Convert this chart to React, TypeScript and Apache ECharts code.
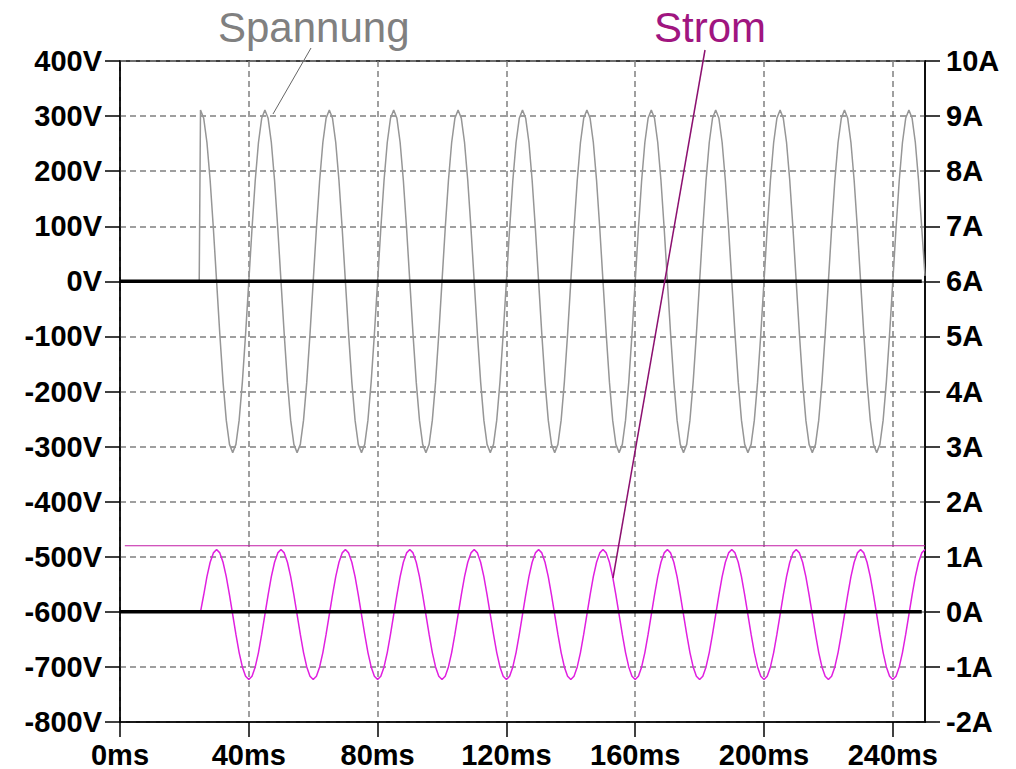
import React, { useEffect, useRef } from "react";
import * as echarts from "echarts";

// x axis (ms)
const xMinMs = 0;
const xMaxMs = 250;
const xIntervalMs = 40;
const xTickValuesMs = [0, 40, 80, 120, 160, 200, 240];
// left axis (V)
const vMin = -800;
const vMax = 400;
const vInterval = 100;
// right axis (A)
const aMin = -2;
const aMax = 10;
const aInterval = 1;

// traces sampled every 1 ms, beginning at the switch-on time
const sampleStartMs = 25;
const sampleStepMs = 1;
// lead-in before switch-on (both traces at zero)
const leadTimesMs = [0, 24.6];
const leadVoltageV = [0, 0];
const leadCurrentA = [0, 0];

const voltageV = [
  311, 296, 252, 183, 96, 0, -96, -183, -252, -296, -311, -296, -252, -183, -96, 0, 96, 183, 252, 296,
  311, 296, 252, 183, 96, 0, -96, -183, -252, -296, -311, -296, -252, -183, -96, 0, 96, 183, 252, 296,
  311, 296, 252, 183, 96, 0, -96, -183, -252, -296, -311, -296, -252, -183, -96, 0, 96, 183, 252, 296,
  311, 296, 252, 183, 96, 0, -96, -183, -252, -296, -311, -296, -252, -183, -96, 0, 96, 183, 252, 296,
  311, 296, 252, 183, 96, 0, -96, -183, -252, -296, -311, -296, -252, -183, -96, 0, 96, 183, 252, 296,
  311, 296, 252, 183, 96, 0, -96, -183, -252, -296, -311, -296, -252, -183, -96, 0, 96, 183, 252, 296,
  311, 296, 252, 183, 96, 0, -96, -183, -252, -296, -311, -296, -252, -183, -96, 0, 96, 183, 252, 296,
  311, 296, 252, 183, 96, 0, -96, -183, -252, -296, -311, -296, -252, -183, -96, 0, 96, 183, 252, 296,
  311, 296, 252, 183, 96, 0, -96, -183, -252, -296, -311, -296, -252, -183, -96, 0, 96, 183, 252, 296,
  311, 296, 252, 183, 96, 0, -96, -183, -252, -296, -311, -296, -252, -183, -96, 0, 96, 183, 252, 296,
  311, 296, 252, 183, 96, 0, -96, -183, -252, -296, -311, -296, -252, -183, -96, 0, 96, 183, 252, 296,
  311, 296, 252, 183, 96, 10,
];

const currentA = [
  0.0, 0.31, 0.64, 0.9, 1.07, 1.13, 1.07, 0.9, 0.64, 0.31, -0.05, -0.41, -0.74, -1.0, -1.17, -1.23, -1.17, -1.0, -0.74, -0.41,
  -0.05, 0.31, 0.64, 0.9, 1.07, 1.13, 1.07, 0.9, 0.64, 0.31, -0.05, -0.41, -0.74, -1.0, -1.17, -1.23, -1.17, -1.0, -0.74, -0.41,
  -0.05, 0.31, 0.64, 0.9, 1.07, 1.13, 1.07, 0.9, 0.64, 0.31, -0.05, -0.41, -0.74, -1.0, -1.17, -1.23, -1.17, -1.0, -0.74, -0.41,
  -0.05, 0.31, 0.64, 0.9, 1.07, 1.13, 1.07, 0.9, 0.64, 0.31, -0.05, -0.41, -0.74, -1.0, -1.17, -1.23, -1.17, -1.0, -0.74, -0.41,
  -0.05, 0.31, 0.64, 0.9, 1.07, 1.13, 1.07, 0.9, 0.64, 0.31, -0.05, -0.41, -0.74, -1.0, -1.17, -1.23, -1.17, -1.0, -0.74, -0.41,
  -0.05, 0.31, 0.64, 0.9, 1.07, 1.13, 1.07, 0.9, 0.64, 0.31, -0.05, -0.41, -0.74, -1.0, -1.17, -1.23, -1.17, -1.0, -0.74, -0.41,
  -0.05, 0.31, 0.64, 0.9, 1.07, 1.13, 1.07, 0.9, 0.64, 0.31, -0.05, -0.41, -0.74, -1.0, -1.17, -1.23, -1.17, -1.0, -0.74, -0.41,
  -0.05, 0.31, 0.64, 0.9, 1.07, 1.13, 1.07, 0.9, 0.64, 0.31, -0.05, -0.41, -0.74, -1.0, -1.17, -1.23, -1.17, -1.0, -0.74, -0.41,
  -0.05, 0.31, 0.64, 0.9, 1.07, 1.13, 1.07, 0.9, 0.64, 0.31, -0.05, -0.41, -0.74, -1.0, -1.17, -1.23, -1.17, -1.0, -0.74, -0.41,
  -0.05, 0.31, 0.64, 0.9, 1.07, 1.13, 1.07, 0.9, 0.64, 0.31, -0.05, -0.41, -0.74, -1.0, -1.17, -1.23, -1.17, -1.0, -0.74, -0.41,
  -0.05, 0.31, 0.64, 0.9, 1.07, 1.13, 1.07, 0.9, 0.64, 0.31, -0.05, -0.41, -0.74, -1.0, -1.17, -1.23, -1.17, -1.0, -0.74, -0.41,
  -0.05, 0.31, 0.64, 0.9, 1.07, 1.13,
];

// horizontal reference levels
const zeroVoltV = 0;
const zeroAmpA = 0;
const cursorLevelA = 1.2;
const cursorStartMs = 1.5;

const voltageLabel = "Spannung";
const currentLabel = "Strom";

const FONT = "'Liberation Sans', Arial, sans-serif";

export default function App() {
  const ref = useRef<HTMLDivElement>(null);

  useEffect(() => {
    if (!ref.current) return;
    const chart = echarts.init(ref.current, undefined, { renderer: "svg" });

    const vData: number[][] = leadTimesMs.map((t, i) => [t, leadVoltageV[i]]);
    voltageV.forEach((v, i) => vData.push([sampleStartMs + i * sampleStepMs, v]));
    const iData: number[][] = leadTimesMs.map((t, i) => [t, leadCurrentA[i]]);
    currentA.forEach((v, i) => iData.push([sampleStartMs + i * sampleStepMs, v]));

    const gridLine = { color: "#808080", type: [6, 4] as any, width: 1.5 };
    const axisLineStyle = { color: "#000", width: 1.5 };
    const labelStyle = {
      color: "#000",
      fontWeight: "bold" as const,
      fontSize: 29,
      lineHeight: 29,
      fontFamily: FONT,
    };

    chart.setOption({
      animation: false,
      backgroundColor: "#fff",
      grid: {
        left: 120,
        right: 91,
        top: 61,
        bottom: 47,
        show: true,
        borderColor: "#000",
        borderWidth: 1.5,
        backgroundColor: "transparent",
        containLabel: false,
        outerBoundsMode: "none",
      },
      xAxis: {
        type: "value",
        min: xMinMs,
        max: xMaxMs,
        interval: xIntervalMs,
        axisLine: { show: true, onZero: false, lineStyle: axisLineStyle },
        axisTick: {
          show: true,
          inside: false,
          length: 15,
          lineStyle: axisLineStyle,
          customValues: xTickValuesMs,
        },
        axisLabel: {
          ...labelStyle,
          margin: 18,
          customValues: xTickValuesMs,
          formatter: (v: number) => `${v}ms`,
        },
        splitLine: { show: true, lineStyle: gridLine },
      },
      yAxis: [
        {
          type: "value",
          min: vMin,
          max: vMax,
          interval: vInterval,
          position: "left",
          axisLine: { show: true, onZero: false, lineStyle: axisLineStyle },
          axisTick: { show: true, inside: false, length: 15, lineStyle: axisLineStyle },
          axisLabel: { ...labelStyle, margin: 18, formatter: "{value}V" },
          splitLine: { show: true, lineStyle: gridLine },
        },
        {
          type: "value",
          min: aMin,
          max: aMax,
          interval: aInterval,
          position: "right",
          axisLine: { show: true, onZero: false, lineStyle: axisLineStyle },
          axisTick: { show: true, inside: false, length: 15, lineStyle: axisLineStyle },
          axisLabel: { ...labelStyle, margin: 21, formatter: "{value}A" },
          splitLine: { show: false },
        },
      ],
      series: [
        {
          name: voltageLabel,
          type: "line",
          yAxisIndex: 0,
          data: vData,
          showSymbol: false,
          symbol: "none",
          lineStyle: { color: "#969696", width: 1.5 },
          z: 3,
        },
        {
          name: currentLabel,
          type: "line",
          yAxisIndex: 1,
          data: iData,
          showSymbol: false,
          symbol: "none",
          lineStyle: { color: "#e020e0", width: 1.5 },
          z: 3,
        },
        {
          name: "cursor",
          type: "line",
          yAxisIndex: 1,
          data: [
            [cursorStartMs, cursorLevelA],
            [xMaxMs, cursorLevelA],
          ],
          symbol: "none",
          lineStyle: { color: "#c21ba6", width: 1.2 },
          z: 4,
        },
        {
          name: "zeroV",
          type: "line",
          yAxisIndex: 0,
          data: [
            [xMinMs, zeroVoltV],
            [xMaxMs - 1, zeroVoltV],
          ],
          symbol: "none",
          lineStyle: { color: "#000", width: 3.5 },
          z: 10,
        },
        {
          name: "zeroA",
          type: "line",
          yAxisIndex: 1,
          data: [
            [xMinMs, zeroAmpA],
            [xMaxMs - 1, zeroAmpA],
          ],
          symbol: "none",
          lineStyle: { color: "#000", width: 3.5 },
          z: 10,
        },
      ],
      graphic: [
        {
          type: "text",
          left: 218,
          top: 6,
          style: { text: voltageLabel, fill: "#808080", font: `42px ${FONT}` },
          z: 20,
        },
        {
          type: "line",
          shape: { x1: 311, y1: 48, x2: 273, y2: 114 },
          style: { stroke: "#666", lineWidth: 1 },
          z: 20,
        },
        {
          type: "text",
          left: 654,
          top: 6,
          style: { text: currentLabel, fill: "#a01580", font: `42px ${FONT}` },
          z: 20,
        },
        {
          type: "line",
          shape: { x1: 705, y1: 50, x2: 613, y2: 578 },
          style: { stroke: "#8c1070", lineWidth: 1.5 },
          z: 20,
        },
      ],
    });

    return () => chart.dispose();
  }, []);

  return (
    <div
      ref={ref}
      style={{ position: "fixed", left: 0, top: 0, width: 1016, height: 769, background: "#fff" }}
    />
  );
}
